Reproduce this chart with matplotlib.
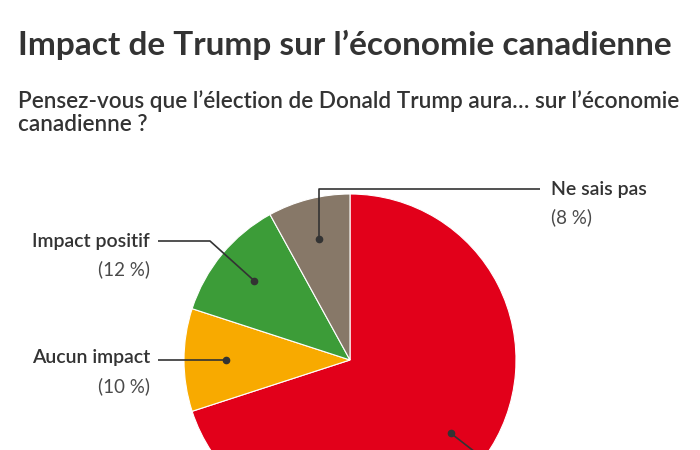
"""Impact de Trump sur l'économie canadienne -> out.png"""
import numpy as np
import matplotlib
matplotlib.use("Agg")
import matplotlib.pyplot as plt

categories = ["Impact négatif", "Aucun impact", "Impact positif", "Ne sais pas"]
values = [70, 10, 12, 8]
colors = ["#e2001a", "#f8aa00", "#3c9c38", "#877868"]

plt.rcParams["font.family"] = ["Lato", "DejaVu Sans"]
INK = "#333333"

fig = plt.figure(figsize=(7, 4.5), dpi=100)
ax = fig.add_axes([0, 0, 1, 1])

CX, CY, R = 350, 90, 166
wedges, _ = ax.pie(values, colors=colors, startangle=90, counterclock=False,
                   center=(CX, CY), radius=R, frame=True,
                   wedgeprops=dict(edgecolor="white", linewidth=0.8))
ax.set_xlim(0, 700); ax.set_ylim(0, 450); ax.axis("off")
ax.set_aspect("equal")

# dots at 3/4 radius on each slice's middle angle
dots = []
for w in wedges:
    a = np.deg2rad((w.theta1 + w.theta2) / 2)
    dots.append((CX + 0.75 * R * np.cos(a), CY + 0.75 * R * np.sin(a)))


def lead(pts):
    xs, ys = zip(*pts)
    ax.plot(xs, ys, color=INK, lw=1.2, solid_capstyle="butt")
    ax.plot(*pts[0], "o", color=INK, ms=4.5)


def label(x, y, name, pct, ha):
    ax.text(x, y, name, ha=ha, va="center", fontsize=14, fontweight="semibold", color=INK)
    ax.text(x, y - 28, f"({pct} %)", ha=ha, va="center", fontsize=13.5, color="#4a4a4a")


# Impact négatif: its label lies below the visible area in the original
d = dots[0]
lead([d, (d[0] + 40, d[1] - 31)])

# Aucun impact
d = dots[1]
lead([d, (158, d[1])])
label(150, 92, categories[1], values[1], "right")

# Impact positif
d = dots[2]
lead([d, (210, 209), (158, 209)])
label(150, 209, categories[2], values[2], "right")

# Ne sais pas
d = dots[3]
lead([d, (d[0], 261), (540, 261)])
label(551, 261, categories[3], values[3], "left")

fig.text(18 / 700, 1 - 45 / 450, "Impact de Trump sur l’économie canadienne",
         fontsize=24, fontweight="bold", color=INK, va="center")
fig.text(18 / 700, 1 - 90 / 450,
         "Pensez-vous que l’élection de Donald Trump aura… sur l’économie\ncanadienne ?",
         fontsize=16.2, fontweight="semibold", color=INK, va="top", linespacing=1.15)

fig.savefig("out.png", dpi=100, facecolor="white")
